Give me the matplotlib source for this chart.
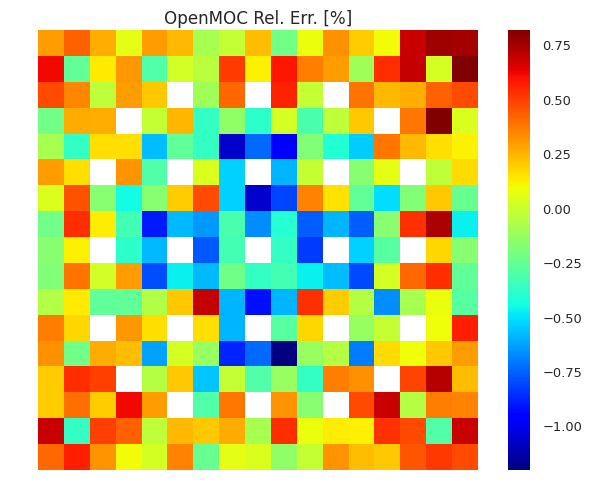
import numpy as np
import matplotlib
matplotlib.use("Agg")
import matplotlib.pyplot as plt

N = None
title = "OpenMOC Rel. Err. [%]"
cbar_ticks = [-1.0, -0.75, -0.5, -0.25, 0.0, 0.25, 0.5, 0.75]
vmin, vmax = -1.2, 0.82

rel_err = [
 [.30,.43,.26,.07,.30,.24,-.08,-.01,.23,-.22,.08,.33,.20,.10,.69,.76,.75],
 [.62,-.26,.14,.31,-.30,.02,-.04,.51,.12,.59,.37,.30,-.10,.54,.70,.03,.82],
 [.48,.35,-.03,.30,.21,N,-.10,.41,N,.56,-.01,N,.39,.24,.26,.43,.48],
 [-.22,.27,.26,N,-.01,.25,-.37,-.14,-.38,.03,-.31,-.03,.21,N,.38,.82,.04],
 [-.08,-.37,.16,.16,-.57,-.26,-.37,-1.06,-.74,-.97,-.18,-.41,-.54,.38,.24,.16,.12],
 [.30,.16,N,.32,-.30,N,.04,-.53,N,-.59,-.01,N,-.16,.07,N,-.03,.17],
 [.04,.46,-.16,-.45,-.16,.20,.48,-.53,-1.06,-.81,.36,.15,-.26,-.51,-.18,.21,-.24],
 [-.22,.54,.13,-.33,-.90,-.58,-.64,-.31,-.67,-.40,-.76,-.59,-.76,-.16,.53,.74,-.47],
 [-.16,.12,N,-.38,-.58,N,-.77,-.33,N,-.37,-.83,N,-.53,-.28,N,.18,-.16],
 [-.18,.39,.02,.30,-.79,-.47,-.58,-.22,-.37,-.33,-.47,-.57,-.80,.03,.41,.54,-.26],
 [-.06,.14,-.26,-.26,-.06,.21,.70,-.59,-.92,-.59,.53,.20,-.05,-.67,-.08,.08,-.28],
 [.37,.18,N,.31,.16,N,.16,-.59,N,-.28,.18,N,-.12,-.01,N,.09,.57],
 [.33,-.22,.27,.23,-.63,.03,-.12,-.87,-.74,-1.20,-.12,-.05,-.70,.17,.09,.21,.30],
 [.20,.54,.50,N,-.05,.21,-.56,-.01,-.30,-.12,-.37,.37,.33,N,.49,.72,.23],
 [.20,.40,.20,.62,.30,N,-.30,.38,N,.32,-.16,N,.48,.69,-.05,.37,.36],
 [.69,-.37,.50,.43,-.03,.24,.21,.27,-.08,.54,.08,.13,.12,.53,.48,-.30,.69],
 [.41,.57,.32,.10,.03,.36,-.24,.07,.04,-.14,-.01,.32,.23,.21,.45,.52,.48],
]

W, H = 592, 504
fig = plt.figure(figsize=(W / 100, H / 100), dpi=100, facecolor="white")
ax = fig.add_axes([38 / W, 1 - 470 / H, 440 / W, 440 / H])
cax = fig.add_axes([508 / W, 1 - 470 / H, 22 / W, 440 / H])

data = np.ma.masked_invalid(np.array(rel_err, dtype=float))
mesh = ax.pcolormesh(data, cmap="jet", vmin=vmin, vmax=vmax)
ax.set_xlim(0, data.shape[1])
ax.set_ylim(data.shape[0], 0)
ax.set_xticks([])
ax.set_yticks([])
for s in ax.spines.values():
    s.set_visible(False)
ax.set_title(title, fontsize=12.1, color="#262626", pad=4)

cb = fig.colorbar(mesh, cax=cax)
cb.set_ticks(cbar_ticks)
cb.ax.tick_params(length=0, labelsize=9.4, labelcolor="#262626", pad=9)
cb.outline.set_visible(False)

fig.savefig("out.png", dpi=100)
